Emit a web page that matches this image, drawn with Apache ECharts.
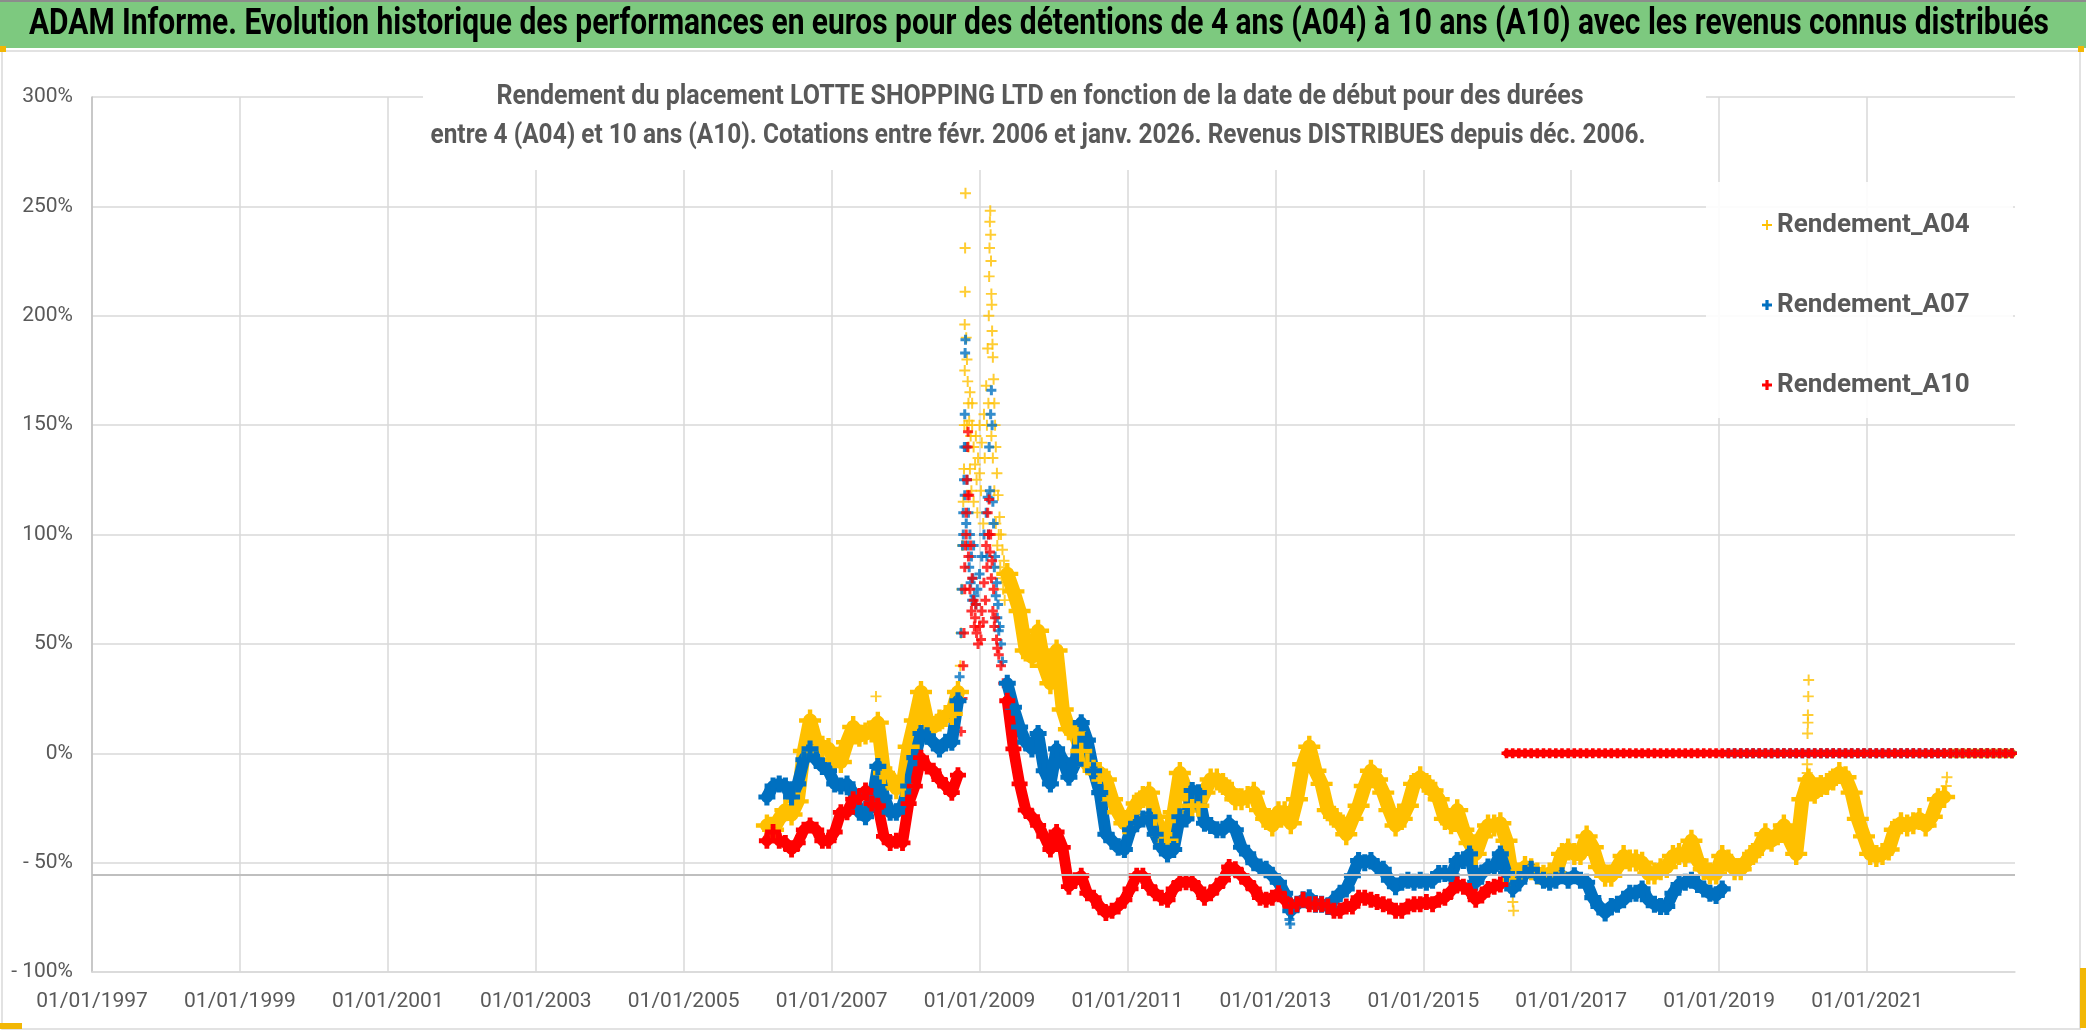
<!DOCTYPE html>
<html><head><meta charset="utf-8">
<script src="https://cdn.jsdelivr.net/npm/echarts@6/dist/echarts.min.js"></script>
<style>html,body{margin:0;padding:0;background:#fff}#c{width:2086px;height:1031px}</style>
</head><body><div id="c"></div>
<script>
// ---------------- DATA ----------------
const mainTitle = 'ADAM Informe. Evolution historique des performances en euros pour des détentions de 4 ans (A04) à 10 ans (A10) avec les revenus connus distribués';
const subTitle1 = 'Rendement du placement LOTTE SHOPPING LTD en fonction de la date de début pour des durées';
const subTitle2 = 'entre 4 (A04) et 10 ans (A10). Cotations entre févr. 2006 et janv. 2026. Revenus DISTRIBUES depuis déc. 2006.';
const seriesNames = ['Rendement_A04', 'Rendement_A07', 'Rendement_A10'];
const firstMonth = 2006.125; // févr. 2006, one value per month (rows = Feb..Jan)
const refLevel = -55.7;

const A04 = [
  -33,-35,-30,-26,-28,-22,1,15,5,3,2,-3,
  -4,5,12,8,9,10,14,-9,-11,-16,-15,3,
  15,28,15,12,15,17,18,28,null,null,null,null,
  null,null,null,82,74,65,47,44,56,40,32,47,
  20,11,9,1,-5,-8,-9,-12,-21,-27,-32,-29,
  -23,-20,-18,-29,-37,-40,-27,-9,-17,-24,-24,-18,
  -12,-12,-14,-17,-21,-21,-20,-18,-26,-30,-33,-27,
  -27,-32,-21,-5,3,-8,-14,-26,-29,-32,-37,-30,
  -24,-15,-8,-12,-18,-26,-33,-30,-24,-14,-11,-14,
  -17,-21,-30,-32,-26,-35,-41,-46,-38,-33,-33,-32,
  -40,-58,-55,-52,-53,-55,-56,-55,-55,-46,-44,-46,
  -46,-38,-43,-52,-56,-56,-52,-47,-49,-49,-50,-55,
  -55,-53,-52,-47,-46,-47,-40,-49,-53,-55,-55,-47,
  -49,-53,-53,-49,-46,-43,-37,-40,-37,-33,-40,-46,
  -21,-12,-18,-15,-14,-12,-9,-11,-18,-30,-38,-46,
  -47,-46,-44,-35,-32,-33,-32,-30,-33,-29,-21,-20,
  0,0,0,0,0,0,0,0,0,0,0
];
const A07 = [
  -20,-15,-14,-15,-20,-14,-3,2,-3,-6,-8,-14,
  -15,-14,-18,-27,-29,-23,-6,-20,-27,-27,-24,-15,
  -2,9,8,5,2,5,5,24,null,null,null,null,
  null,null,null,32,21,12,5,2,9,-8,-14,2,
  -3,-11,-5,14,6,-8,-18,-37,-40,-43,-44,-35,
  -32,-30,-29,-37,-43,-46,-44,-29,-30,-17,-18,-32,
  -33,-35,-35,-32,-35,-43,-46,-50,-52,-53,-56,-59,
  -64,-72,-69,-67,-66,-69,-69,-70,-67,-64,-62,-56,
  -49,-50,-49,-52,-53,-58,-61,-59,-58,-59,-58,-59,
  -58,-55,-55,-56,-49,-49,-46,-59,-55,-52,-52,-46,
  -55,-62,-59,-55,-53,-56,-58,-59,-58,-56,-58,-56,
  -58,-59,-66,-70,-73,-70,-69,-67,-64,-64,-62,-67,
  -69,-70,-70,-64,-60,-59,-58,-60,-62,-64,-65,-62,
  0,0,0,0,0,0,0,0,0,0,0,0,
  0,0,0,0,0,0,0,0,0,0,0,0,
  0,0,0,0,0,0,0,0,0,0,0,0,
  0,0,0,0,0,0,0,0,0,0,0
];
const A10 = [
  -40,-36,-40,-41,-44,-41,-35,-33,-35,-40,-40,-36,
  -27,-27,-21,-20,-17,-23,-24,-38,-41,-40,-41,-23,
  -15,-2,-6,-8,-12,-15,-18,-10,null,null,null,null,
  null,null,null,24,2,-14,-26,-29,-33,-38,-44,-36,
  -43,-61,-58,-56,-64,-66,-70,-73,-72,-70,-67,-62,
  -56,-56,-61,-64,-66,-67,-62,-59,-59,-59,-62,-66,
  -64,-61,-58,-52,-53,-56,-59,-62,-66,-67,-66,-64,
  -67,-70,-69,-67,-69,-69,-69,-70,-72,-72,-70,-70,
  -66,-66,-67,-68,-69,-70,-72,-72,-70,-69,-69,-68,
  -69,-67,-66,-63,-60,-61,-63,-67,-65,-62,-61,-60,
  0,0,0,0,0,0,0,0,0,0,0,0,
  0,0,0,0,0,0,0,0,0,0,0,0,
  0,0,0,0,0,0,0,0,0,0,0,0,
  0,0,0,0,0,0,0,0,0,0,0,0,
  0,0,0,0,0,0,0,0,0,0,0,0,
  0,0,0,0,0,0,0,0,0,0,0,0,
  0,0,0,0,0,0,0,0,0,0,0
];
// isolated daily points (crash / rebound 2008-2009 and other outliers): [year, %]
const A04_points = [
  [2007.6,26],[2008.74,40],[2008.75,55],[2008.76,75],[2008.77,95],[2008.78,115],[2008.79,130],[2008.795,150],
  [2008.80,175],[2008.80,196],[2008.805,211],[2008.805,231],[2008.81,256],[2008.82,190],[2008.83,180],[2008.83,150],
  [2008.84,170],[2008.85,160],[2008.85,140],[2008.86,152],[2008.87,165],[2008.87,130],[2008.88,145],[2008.89,120],
  [2008.90,150],[2008.90,160],[2008.92,140],[2008.92,115],[2008.94,132],[2008.95,145],[2008.96,125],[2008.97,110],
  [2008.98,135],[2009.00,128],[2009.00,150],[2009.02,120],[2009.03,142],[2009.05,105],[2009.06,155],[2009.07,135],
  [2009.09,168],[2009.10,150],[2009.11,185],[2009.12,160],
  [2009.125,200],[2009.13,218],[2009.135,231],[2009.14,243],[2009.145,248],[2009.15,237],[2009.155,225],
  [2009.16,210],[2009.16,145],[2009.165,205],[2009.17,193],[2009.175,187],[2009.18,181],[2009.18,135],[2009.19,171],
  [2009.20,160],[2009.20,120],[2009.21,150],[2009.22,140],[2009.22,105],[2009.235,128],[2009.24,95],[2009.25,118],
  [2009.26,100],[2009.27,108],[2009.28,85],[2009.29,100],[2009.30,80],[2009.31,93],[2009.32,75],[2009.33,88],
  [2009.34,70],[2009.36,78],
  [2016.20,-62],[2016.21,-68],[2016.22,-72],
  [2020.17,-15],[2020.19,-9],[2020.19,-5],[2020.195,9],[2020.20,14],[2020.20,17.5],[2020.205,26],[2020.21,33.5],
  [2022.07,-15],[2022.08,-11]
];
const A07_points = [
  [2008.73,35],[2008.75,55],[2008.76,75],[2008.77,95],[2008.78,110],[2008.78,100],[2008.79,125],[2008.795,140],
  [2008.80,155],[2008.80,118],[2008.805,183],[2008.81,189],[2008.82,140],[2008.82,105],[2008.83,125],[2008.84,95],
  [2008.85,110],[2008.86,85],[2008.87,100],[2008.88,78],[2008.89,90],[2008.90,70],[2008.91,80],[2008.92,95],
  [2008.93,72],[2008.95,68],[2008.97,75],[2009.00,82],[2009.03,90],[2009.06,100],[2009.09,110],[2009.10,90],
  [2009.11,117],[2009.12,100],[2009.13,140],[2009.14,120],[2009.15,155],[2009.16,166],[2009.17,150],[2009.18,115],
  [2009.19,105],[2009.20,85],[2009.21,90],[2009.22,72],[2009.23,78],[2009.24,62],[2009.25,68],[2009.26,56],
  [2009.27,58],[2009.29,50],[2009.31,42],
  [2013.19,-76],[2013.20,-78]
];
const A10_points = [
  [2008.75,10],[2008.77,25],[2008.78,40],[2008.79,55],[2008.80,75],[2008.80,85],[2008.81,95],[2008.82,110],
  [2008.82,100],[2008.83,125],[2008.84,140],[2008.84,118],[2008.845,147],[2008.85,90],[2008.86,118],[2008.87,75],
  [2008.88,95],[2008.89,65],[2008.90,80],[2008.92,70],[2008.93,58],[2008.94,62],[2008.95,68],[2008.96,55],
  [2008.98,50],[2009.00,58],[2009.02,52],[2009.03,65],[2009.05,60],[2009.06,78],[2009.08,70],[2009.09,95],
  [2009.10,85],[2009.11,110],[2009.12,100],[2009.13,116],[2009.14,92],[2009.15,100],[2009.16,80],[2009.17,88],
  [2009.18,65],[2009.19,75],[2009.20,58],[2009.21,62],[2009.23,52],[2009.24,48],[2009.26,45],[2009.29,40],[2009.32,32]
];

// ---------------- STYLE ----------------
const colors = ['#FFC000', '#0070C0', '#FF0000'];
function plusPath(t) { // t = arm thickness (0..10)
  const a = (10 - t) / 2, b = a + t;
  return `path://M${a},0H${b}V${a}H10V${b}H${b}V10H${a}V${b}H0V${a}H${a}Z`;
}
const bandSymbol = [plusPath(2.0), plusPath(3.0), plusPath(3.0)];
const bandSize = [22, 17, 16];
const bandWidth = [14, 12, 11];
const pointSymbol = [plusPath(1.8), plusPath(3.0), plusPath(3.0)];
const pointSize = [11, 10, 10];

function monthlyLine(values, zero) {
  return values.map((v, i) => {
    const t = firstMonth + i / 12;
    if (v === null || (v === 0) !== zero) return [t, '-'];
    return [t, v];
  });
}
const monthlySets = [A04, A07, A10];
const pointSets = [A04_points, A07_points, A10_points];

const series = [];
seriesNames.forEach((name, k) => {
  const common = { name, silent: true, animation: false, emphasis: { disabled: true }, itemStyle: { color: colors[k] } };
  series.push(Object.assign({}, common, {
    type: 'line', data: monthlyLine(monthlySets[k], false), connectNulls: false,
    symbol: bandSymbol[k], symbolSize: bandSize[k], showSymbol: true,
    lineStyle: { color: colors[k], width: bandWidth[k], join: 'round', cap: 'round' }
  }));
  series.push(Object.assign({}, common, {
    type: 'scatter', data: pointSets[k], symbol: pointSymbol[k], symbolSize: pointSize[k]
  }));
  series.push(Object.assign({}, common, {
    type: 'line', data: monthlyLine(monthlySets[k], true), connectNulls: false,
    symbol: plusPath(3.6), symbolSize: 10, showSymbol: true,
    lineStyle: { color: colors[k], width: k === 0 ? 9 : 7, cap: 'round' }
  }));
});
// reference line
series[0].markLine = {
  silent: true, symbol: 'none', animation: false, label: { show: false },
  lineStyle: { color: '#BFBFBF', width: 2, type: 'solid' },
  data: [{ yAxis: refLevel }]
};

function fitScale(text, font, target) {
  const ctx = document.createElement('canvas').getContext('2d');
  ctx.font = font;
  return target / ctx.measureText(text).width;
}
const tFont = '"Roboto", "Noto Sans", sans-serif';
const s0 = fitScale(mainTitle, 'bold 36px Roboto', 2020);
const s1 = fitScale(subTitle1, 'bold 27px Roboto', 1087);
const s2 = fitScale(subTitle2, 'bold 27px Roboto', 1215);

const chart = echarts.init(document.getElementById('c'), null, { renderer: 'canvas', width: 2086, height: 1031 });
chart.setOption({
  backgroundColor: '#ffffff',
  animation: false,
  grid: { left: 92, right: 71, top: 97, bottom: 59, containLabel: false },
  xAxis: {
    type: 'value', min: 1997, max: 2023, interval: 2,
    axisLine: { show: true, onZero: false, lineStyle: { color: '#D9D9D9', width: 1.5 } },
    axisTick: { show: false },
    splitLine: { show: true, showMaxLine: false, lineStyle: { color: '#D9D9D9', width: 1.5 } },
    axisLabel: { color: '#595959', fontSize: 21, fontFamily: tFont, margin: 19, showMaxLabel: false,
      formatter: v => '01/01/' + Math.round(v) }
  },
  yAxis: {
    type: 'value', min: -100, max: 300, interval: 50,
    axisLine: { show: true, onZero: false, lineStyle: { color: '#BFBFBF', width: 1.5 } },
    axisTick: { show: false },
    splitLine: { show: true, lineStyle: { color: '#D9D9D9', width: 1.5 } },
    axisLabel: { color: '#595959', fontSize: 21, fontFamily: tFont, margin: 19,
      formatter: v => (v < 0 ? '- ' + Math.abs(v) : v) + '%' }
  },
  legend: {
    orient: 'vertical', left: 1757, top: 205, itemWidth: 10, itemHeight: 10, itemGap: 50,
    selectedMode: false,
    textStyle: { color: '#595959', fontSize: 26, fontWeight: 'bold', fontFamily: tFont, lineHeight: 30 },
    data: [
      { name: seriesNames[0], icon: plusPath(1.8), itemStyle: { color: colors[0] } },
      { name: seriesNames[1], icon: plusPath(3.2), itemStyle: { color: colors[1] } },
      { name: seriesNames[2], icon: plusPath(3.2), itemStyle: { color: colors[2] } }
    ]
  },
  graphic: [
    { type: 'rect', z: 10, shape: { x: 0, y: 0, width: 2086, height: 48 }, style: { fill: '#7DC97F' } },
    { type: 'rect', z: 10, shape: { x: 0, y: 0, width: 2086, height: 2 }, style: { fill: '#8C8C8C' } },
    { type: 'text', z: 11, x: 1039, y: 25, scaleX: s0,
      style: { text: mainTitle, fontSize: 36, fontWeight: 'bold', fontFamily: 'Roboto', fill: '#000', align: 'center', verticalAlign: 'middle' } },
    { type: 'rect', z: 1, shape: { x: 2, y: 51, width: 2078, height: 978 }, style: { fill: 'none', stroke: '#D9D9D9', lineWidth: 1.5 } },
    { type: 'rect', z: 1, shape: { x: 423, y: 56, width: 1283, height: 114 }, style: { fill: '#ffffff' } },
    { type: 'text', z: 11, x: 1040, y: 97, scaleX: s1,
      style: { text: subTitle1, fontSize: 27, fontWeight: 'bold', fontFamily: 'Roboto', fill: '#595959', align: 'center', verticalAlign: 'middle' } },
    { type: 'text', z: 11, x: 1038, y: 136, scaleX: s2,
      style: { text: subTitle2, fontSize: 27, fontWeight: 'bold', fontFamily: 'Roboto', fill: '#595959', align: 'center', verticalAlign: 'middle' } },
    { type: 'rect', z: 1, shape: { x: 1706, y: 182, width: 307, height: 236 }, style: { fill: 'rgba(255,255,255,0.9)' } },
    { type: 'rect', z: 11, shape: { x: 0, y: 46, width: 6, height: 6 }, style: { fill: '#F2B705' } },
    { type: 'rect', z: 11, shape: { x: 2078, y: 46, width: 6, height: 6 }, style: { fill: '#F2B705' } },
    { type: 'rect', z: 11, shape: { x: 0, y: 1023, width: 22, height: 6 }, style: { fill: '#F2B705' } },
    { type: 'rect', z: 11, shape: { x: 2080, y: 968, width: 6, height: 60 }, style: { fill: '#F2B705' } }
  ],
  series
});
</script>
</body></html>
